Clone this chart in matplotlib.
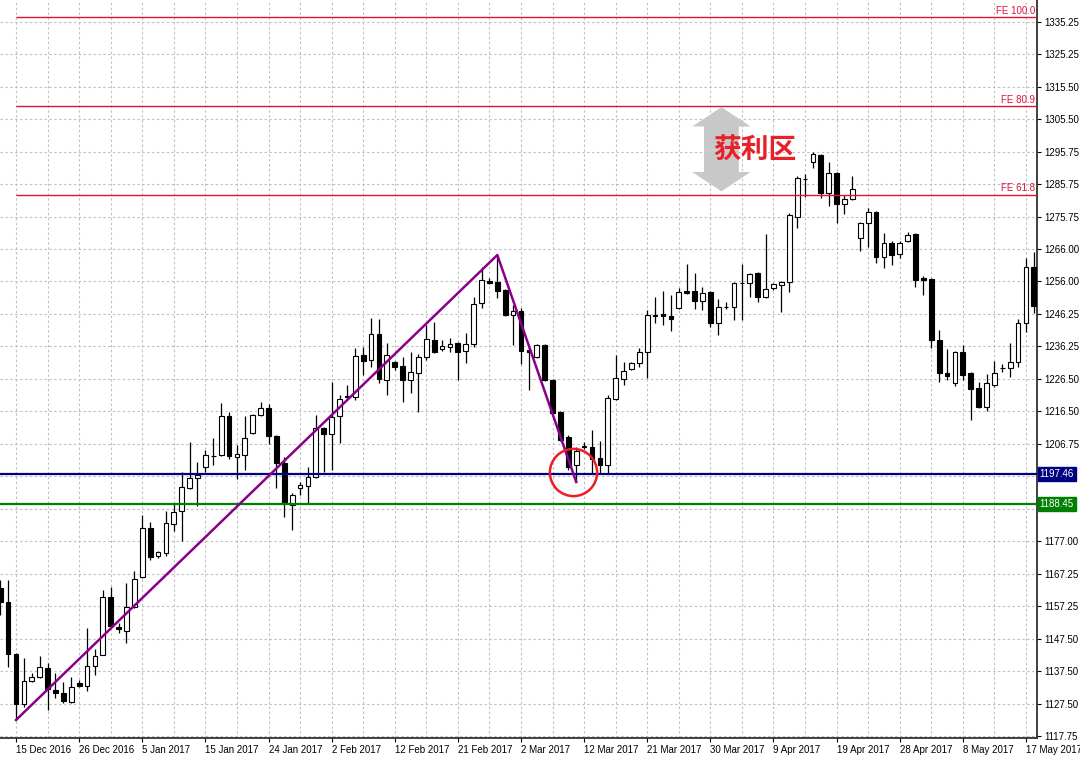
import numpy as np
import matplotlib.pyplot as plt
import matplotlib.transforms as mtrans
from matplotlib.patches import FancyArrow

plt.rcParams['font.family'] = ['Liberation Sans', 'DejaVu Sans']

# daily bars, bar 0 = 15 Dec 2016 (two earlier bars are cut by the left edge)
bars = list(range(-2, 130))
opens = [1162.81, 1158.55, 1142.72, 1127.49, 1134.50, 1135.71, 1138.45, 1131.75, 1130.84, 1128.10,
         1133.89, 1132.97, 1139.06, 1142.41, 1160.07, 1150.94, 1149.72, 1157.03, 1166.16, 1181.08,
         1172.56, 1173.47, 1182.30, 1186.26, 1193.26, 1196.31, 1199.66, 1203.01, 1203.31, 1215.19,
         1202.70, 1203.31, 1210.01, 1215.49, 1217.62, 1209.10, 1200.88, 1188.09, 1193.26, 1193.87,
         1196.61, 1211.53, 1209.71, 1215.19, 1221.28, 1220.97, 1233.76, 1232.24, 1240.16, 1226.15,
         1231.63, 1230.41, 1226.15, 1228.28, 1233.15, 1238.33, 1235.59, 1236.20, 1237.42, 1234.98,
         1237.11, 1249.60, 1256.30, 1255.99, 1253.55, 1245.94, 1247.16, 1235.28, 1233.15, 1236.81,
         1226.15, 1216.41, 1208.79, 1200.27, 1205.75, 1205.75, 1202.40, 1200.27, 1220.36, 1226.45,
         1229.50, 1231.33, 1234.68, 1246.09, 1246.25, 1245.64, 1248.07, 1253.25, 1253.25, 1250.21,
         1252.95, 1243.51, 1248.30, 1248.38, 1255.60, 1255.69, 1258.73, 1251.42, 1254.16, 1255.08,
         1255.99, 1275.78, 1287.35, 1292.53, 1294.66, 1283.09, 1289.18, 1279.74, 1281.26, 1269.39,
         1273.96, 1277.31, 1263.60, 1267.87, 1264.52, 1268.48, 1270.61, 1257.21, 1256.90, 1238.33,
         1228.28, 1225.24, 1234.68, 1228.28, 1223.71, 1217.93, 1224.63, 1229.80, 1229.80, 1231.63,
         1243.51, 1260.56]
highs = [1165.25, 1165.25, 1143.02, 1141.50, 1136.93, 1142.11, 1139.98, 1136.93, 1134.19, 1135.71,
         1134.80, 1150.63, 1144.24, 1162.20, 1163.12, 1152.16, 1164.34, 1167.99, 1185.04, 1182.91,
         1174.08, 1186.26, 1188.70, 1198.14, 1207.27, 1201.18, 1204.83, 1208.49, 1219.15, 1216.41,
         1206.36, 1215.19, 1215.80, 1219.45, 1218.84, 1209.40, 1202.70, 1191.74, 1195.09, 1199.66,
         1215.49, 1211.84, 1225.54, 1221.58, 1224.63, 1235.89, 1236.20, 1245.03, 1244.72, 1237.42,
         1231.94, 1233.15, 1234.68, 1234.07, 1242.90, 1243.81, 1238.33, 1238.94, 1237.72, 1240.46,
         1251.42, 1260.56, 1257.21, 1264.21, 1253.86, 1248.99, 1248.07, 1236.20, 1237.11, 1237.11,
         1226.45, 1216.71, 1209.40, 1205.75, 1207.27, 1210.92, 1207.58, 1221.58, 1233.76, 1231.63,
         1231.63, 1235.89, 1247.46, 1251.42, 1253.25, 1252.03, 1254.16, 1261.47, 1258.73, 1254.47,
         1253.25, 1250.81, 1249.90, 1255.99, 1261.47, 1258.73, 1259.04, 1270.61, 1255.69, 1256.30,
         1277.00, 1288.27, 1288.88, 1295.58, 1294.97, 1292.53, 1289.49, 1282.48, 1288.27, 1274.26,
         1278.52, 1277.61, 1270.91, 1268.48, 1268.48, 1271.22, 1270.91, 1257.82, 1257.21, 1241.37,
         1235.59, 1234.98, 1236.81, 1228.59, 1225.54, 1227.98, 1231.94, 1231.02, 1237.42, 1244.72,
         1263.30, 1265.13]
lows = [1154.59, 1138.76, 1122.62, 1126.58, 1134.19, 1135.41, 1125.66, 1129.32, 1127.80, 1127.80,
        1132.67, 1131.45, 1136.32, 1142.41, 1150.94, 1149.11, 1146.07, 1156.72, 1165.86, 1171.34,
        1171.95, 1172.56, 1180.17, 1177.13, 1192.96, 1187.78, 1198.14, 1200.27, 1203.01, 1202.09,
        1196.00, 1198.74, 1209.71, 1215.19, 1206.66, 1193.26, 1184.43, 1180.47, 1191.13, 1188.70,
        1196.31, 1198.14, 1198.74, 1206.97, 1220.06, 1220.06, 1227.67, 1230.11, 1225.24, 1221.58,
        1229.19, 1219.45, 1222.19, 1216.41, 1232.24, 1234.37, 1234.98, 1234.68, 1226.15, 1231.33,
        1236.20, 1248.07, 1255.38, 1251.12, 1245.64, 1236.81, 1231.02, 1223.10, 1232.85, 1225.85,
        1215.80, 1207.58, 1198.74, 1195.09, 1205.14, 1197.83, 1197.83, 1197.83, 1220.06, 1224.63,
        1229.19, 1230.11, 1226.76, 1243.51, 1242.90, 1241.07, 1247.77, 1252.34, 1247.77, 1247.46,
        1242.29, 1239.85, 1247.77, 1244.42, 1244.42, 1251.42, 1249.90, 1251.12, 1253.55, 1246.86,
        1252.95, 1272.43, 1281.87, 1290.70, 1281.57, 1279.13, 1273.96, 1276.70, 1280.96, 1265.43,
        1266.65, 1261.78, 1260.25, 1261.17, 1263.30, 1268.17, 1254.47, 1252.03, 1235.89, 1225.54,
        1226.15, 1224.32, 1226.15, 1213.97, 1217.62, 1216.71, 1224.02, 1228.59, 1227.06, 1230.11,
        1240.77, 1246.55]
closes = [1158.55, 1142.72, 1127.49, 1134.50, 1135.71, 1138.76, 1132.06, 1130.84, 1128.41, 1132.67,
          1132.97, 1139.06, 1142.11, 1160.07, 1151.24, 1150.33, 1157.03, 1165.55, 1181.08, 1172.25,
          1173.78, 1182.61, 1185.96, 1193.57, 1196.31, 1197.22, 1203.31, 1203.10, 1215.19, 1203.01,
          1203.62, 1208.49, 1215.49, 1217.62, 1209.10, 1200.88, 1188.70, 1191.13, 1194.18, 1196.61,
          1211.53, 1209.71, 1214.88, 1220.36, 1220.97, 1233.46, 1231.94, 1240.16, 1226.45, 1233.76,
          1230.11, 1226.15, 1228.59, 1233.15, 1238.63, 1234.68, 1236.50, 1237.11, 1234.68, 1237.11,
          1249.29, 1256.60, 1255.69, 1253.25, 1245.94, 1247.16, 1234.98, 1234.68, 1236.81, 1226.15,
          1216.10, 1207.88, 1199.66, 1204.53, 1206.05, 1202.09, 1200.27, 1220.67, 1226.76, 1228.89,
          1231.33, 1234.68, 1245.94, 1245.79, 1245.64, 1244.72, 1252.95, 1252.64, 1250.21, 1252.64,
          1243.51, 1248.38, 1248.50, 1255.69, 1255.70, 1258.43, 1251.42, 1253.86, 1255.38, 1255.99,
          1276.39, 1287.66, 1287.35, 1294.97, 1283.09, 1289.18, 1279.74, 1281.26, 1284.31, 1273.96,
          1277.31, 1263.60, 1267.87, 1264.21, 1267.87, 1270.30, 1256.60, 1256.60, 1238.33, 1228.28,
          1227.37, 1234.68, 1227.67, 1223.41, 1217.93, 1225.24, 1228.28, 1229.80, 1231.63, 1243.51,
          1260.56, 1248.68]

date_labels = ['15 Dec 2016', '26 Dec 2016', '5 Jan 2017', '15 Jan 2017', '24 Jan 2017',
               '2 Feb 2017', '12 Feb 2017', '21 Feb 2017', '2 Mar 2017', '12 Mar 2017',
               '21 Mar 2017', '30 Mar 2017', '9 Apr 2017', '19 Apr 2017', '28 Apr 2017',
               '8 May 2017', '17 May 2017']
# the two scale labels under the price boxes are hidden in the original
price_labels = ['1117.75', '1127.50', '1137.50', '1147.50', '1157.25', '1167.25', '1177.00',
                '', '', '1206.75', '1216.50', '1226.50', '1236.25', '1246.25',
                '1256.00', '1266.00', '1275.75', '1285.75', '1295.75', '1305.50', '1315.50',
                '1325.25', '1335.25']

# zigzag swing points (bar numbers) used for the Fibonacci expansion
swing_a, swing_b, swing_c = 0, 61, 71
fe_ratios = [61.8, 80.9, 100.0]
support_levels = [1197.46, 1188.45]
support_colors = ['#000080', '#008000']

bars = np.array(bars)
o = np.array(opens); h = np.array(highs); l = np.array(lows); c = np.array(closes)

fig = plt.figure(figsize=(10.8, 7.58), dpi=100)
ax = fig.add_axes([0, 20 / 758, 1037 / 1080, 738 / 758])
ax.set_xlim(-2.03, 129.4)
ax.set_ylim(1117.14, 1341.86)

# grid
ax.set_yticks(np.linspace(1117.75, 1335.25, len(price_labels)))
ax.set_yticklabels(price_labels)
ax.set_xticks(np.arange(0, 129, 8))
ax.set_xticklabels(date_labels, ha='left')
ax.set_xticks(np.arange(4, 129, 8), minor=True)
ax.grid(True, which='both', color='#c0c0c0', linestyle=(0, (2.2, 2.2)), linewidth=0.8, zorder=0)
ax.set_axisbelow(True)

ax.yaxis.tick_right()
ax.tick_params(axis='y', which='major', direction='out', length=3, pad=2, labelsize=7, colors='#000000')
ax.tick_params(axis='x', which='major', direction='out', length=3, pad=2, labelsize=7)
ax.tick_params(axis='x', which='minor', length=0)
for s in ['left', 'top']:
    ax.spines[s].set_visible(False)
for s in ['right', 'bottom']:
    ax.spines[s].set_color('#303030')
    ax.spines[s].set_linewidth(1.3)

# candles
ax.vlines(bars, l, h, color='#000000', linewidth=0.9, zorder=2)
up = c >= o
ax.bar(bars[up], c[up] - o[up], bottom=o[up], width=0.6, color='white',
       edgecolor='black', linewidth=0.8, zorder=3)
ax.bar(bars[~up], o[~up] - c[~up], bottom=c[~up], width=0.6, color='black',
       edgecolor='black', linewidth=0.8, zorder=3)

# Fibonacci expansion levels (drawn from point A to the right edge)
pa = l[bars == swing_a][0]
pb = h[bars == swing_b][0]
pc = l[bars == swing_c][0]
fe_prices = [pc + r / 100 * (pb - pa) for r in fe_ratios]
trans = mtrans.blended_transform_factory(ax.transAxes, ax.transData)
for r, p in zip(fe_ratios, fe_prices):
    ax.hlines(p, swing_a, 129.4, color='#dc143c', linewidth=1.0, zorder=4)
    ax.text(0.998, p + 0.4, 'FE %.1f' % r, transform=trans, ha='right', va='bottom',
            fontsize=7, color='#dc143c', zorder=5)

# support lines with price boxes
for p, col in zip(support_levels, support_colors):
    ax.axhline(p, color=col, linewidth=1.6, zorder=4)
    ax.text(1.0025, p, '%.2f' % p, transform=trans, ha='left', va='center', fontsize=7,
            color='white', zorder=6, clip_on=False,
            bbox=dict(boxstyle='square,pad=0.2', facecolor=col, edgecolor=col))

# zigzag
ax.plot([swing_a, swing_b, swing_c], [pa, pb, pc], color='#8b008b', linewidth=1.8, zorder=5)

# red circle around the pullback low
ax.plot([70.6], [1198.0], marker='o', markersize=34, markerfacecolor='none',
        markeredgecolor='#ee1c24', markeredgewidth=1.8, zorder=6)

# profit-zone arrow
x_arr = 89.4
mid = (fe_prices[0] + fe_prices[1]) / 2
top, bot = fe_prices[1] - 0.4, fe_prices[0] + 1.0
for end in [top, bot]:
    ax.add_patch(FancyArrow(x_arr, mid, 0, end - mid, width=4.4, head_width=7.4,
                            head_length=5.9, length_includes_head=True,
                            color='#c8c8c8', linewidth=0, zorder=6))
ax.text(93.7, 1295.9, '获利区', fontsize=20, fontweight='bold', color='#e8202a',
        family=['Noto Sans CJK SC', 'DejaVu Sans'], ha='center', va='center', zorder=7)

fig.savefig('out.png', dpi=100)
